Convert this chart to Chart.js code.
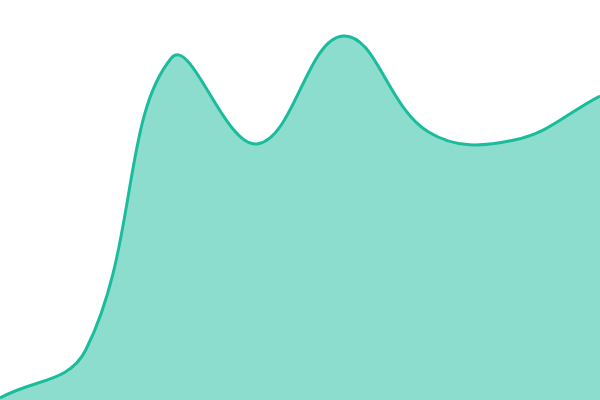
<!DOCTYPE html>
<html>
<head>
<meta charset="utf-8">
<script src="https://cdn.jsdelivr.net/npm/chart.js@4/dist/chart.umd.min.js"></script>
<style>
  html, body { margin: 0; padding: 0; background: #fff; }
  #wrap { width: 600px; height: 400px; }
</style>
</head>
<body>
<div id="wrap"><canvas id="area-chart"></canvas></div>
<script>
const labels = ["1", "2", "3", "4", "5", "6", "7", "8"]
const values = [0.5, 12.5, 85.5, 64, 91, 67, 65, 76]

const ctx = document.getElementById("area-chart").getContext("2d")

new Chart(ctx, {
    type: "line",
    data: {
        labels: labels,
        datasets: [{
            data: values,
            borderColor: "#1abc9c",
            backgroundColor: "rgba(26, 188, 156, 0.5)",
            borderWidth: 3,
            fill: true,
            tension: 0.4,
            pointRadius: 0,
        }]
    },
    options: {
        responsive: true,
        maintainAspectRatio: false,
        animation: false,
        layout: { padding: 0 },
        plugins: {
            legend: { display: false },
            tooltip: { enabled: false },
        },
        scales: {
            x: { display: false, offset: false },
            y: { display: false, min: 0, max: 100 },
        },
    }
})
</script>
</body>
</html>
